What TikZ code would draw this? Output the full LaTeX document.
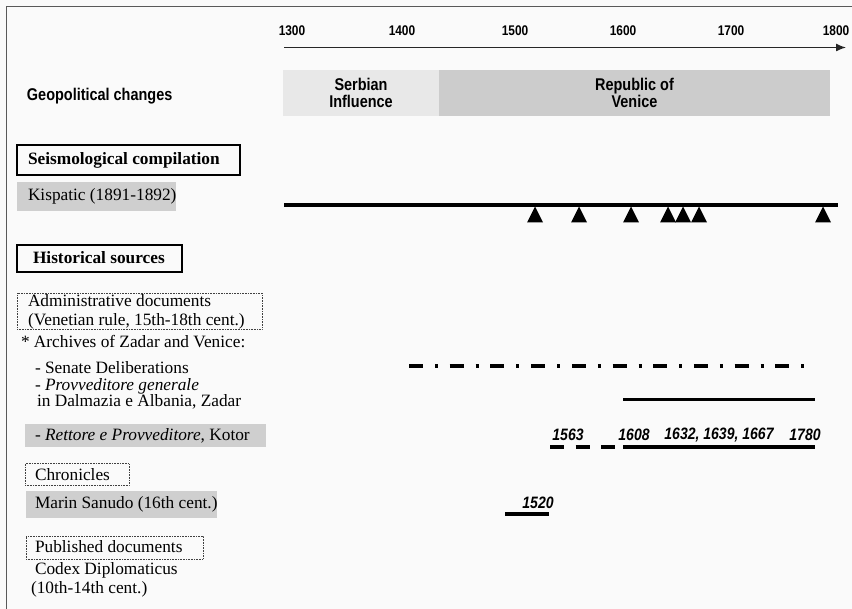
\documentclass[tikz,border=0pt]{standalone}
\usepackage{fontspec}
\setmainfont{Liberation Serif}
\setsansfont[FakeStretch=0.85]{Liberation Sans}
\usetikzlibrary{arrows.meta}

\definecolor{paper}{gray}{0.98}
\definecolor{framegray}{gray}{0.35}

\newcommand{\rowfont}{\fontsize{17.3}{19}\selectfont}
\newcommand{\geofont}{\sffamily\bfseries\fontsize{17}{17}\selectfont}
\newcommand{\yearfont}{\sffamily\bfseries\fontsize{14}{14}\selectfont}
\newcommand{\eventfont}{\sffamily\bfseries\itshape\fontsize{16.5}{17}\selectfont}

\begin{document}
\begin{tikzpicture}[x=1pt,y=-1pt,>={Latex[length=10pt,width=8pt]},
  every node/.style={inner sep=0pt,outer sep=0pt},
  rowtext/.style={anchor=west,font=\rowfont,align=left},
  headbox/.style={anchor=west,draw=black,line width=2pt},
  greybox/.style={anchor=west,fill=black!19},
  dotbox/.style={anchor=west,draw=black!75,densely dotted,line width=.6pt},
  geobox/.style={anchor=west,minimum height=46pt,font=\geofont,align=center},
  bar/.style={line width=3.5pt}]

  \useasboundingbox [fill=paper] (0,0) rectangle (852,609);
  \draw [framegray,line width=1.2pt] (6.5,609) |- (852,6.5);

  % time axis
  \foreach \yr/\x in {1300/292,1400/402,1500/515,1600/623,1700/731,1800/836}
    \node [font=\yearfont] (yr\yr) at (\x,31) {\yr};
  \draw [->,black!85,line width=1.3pt] (284,47.5) -- (846,47.5);

  % geopolitical changes
  \node [anchor=west,font=\geofont] (geo) at (27,96) {Geopolitical changes};
  \node [geobox,minimum width=156pt,fill=black!9] (serb) at (283,93) {Serbian\\Influence};
  \node [geobox,minimum width=391pt,fill=black!20] (venice) at (serb.east) {Republic of\\Venice};

  % seismological compilation
  \node [headbox,minimum width=223pt,minimum height=30pt] (seismoBox) at (17,160) {};
  \node [rowtext,font=\rowfont\bfseries] (seismo) at (28,160) {Seismological compilation};
  \node [greybox,minimum width=159pt,minimum height=29pt] (kispBox) at (17,196.5) {};
  \node [rowtext] (kisp) at (28,196) {Kispatic (1891-1892)};
  \draw [line width=4pt] (284,205) -- (838,205);
  \foreach \x in {535,579,631,668,683,699,823}
    \fill (\x,206.5) -- ++(-8,16) -- ++(16,0) -- cycle;

  % historical sources
  \node [headbox,minimum width=165pt,minimum height=27pt] (histBox) at (17,258.5) {};
  \node [rowtext,font=\rowfont\bfseries] (hist) at (33,258) {Historical sources};

  \node [dotbox,minimum width=245pt,minimum height=36pt] (adminBox) at (17,311) {};
  \node [rowtext] (admin) at (28,312) {Administrative documents\\(Venetian rule, 15th-18th cent.)};
  \node [rowtext] (archives) at (21,342) {* Archives of Zadar and Venice:};
  \node [rowtext] (senate) at (35,368) {- Senate Deliberations};
  \node [rowtext,font=\fontsize{17.3}{16}\selectfont] (provv) at (35,394)
    {- \textit{Provveditore generale}\\\hspace*{2pt}in Dalmazia e Albania, Zadar};
  \node [greybox,minimum width=241pt,minimum height=23pt] (kotorBox) at (25,436) {};
  \node [rowtext] (kotor) at (35,436) {- \textit{Rettore e Provveditore}, Kotor};

  \node [dotbox,minimum width=104pt,minimum height=22pt] (chronBox) at (25,474.5) {};
  \node [rowtext] (chron) at (35,475) {Chronicles};
  \node [greybox,minimum width=191pt,minimum height=27pt] (sanudoBox) at (26,504.5) {};
  \node [rowtext] (sanudo) at (35,504) {Marin Sanudo (16th cent.)};

  \node [dotbox,minimum width=177pt,minimum height=23pt] (publBox) at (26,547.5) {};
  \node [rowtext] (publ) at (35,547) {Published documents};
  \node [rowtext] (codex) at (31,580) {\hspace*{4pt}Codex Diplomaticus\\(10th-14th cent.)};

  % coverage of the sources
  \draw [bar,dash pattern=on 14pt off 12pt on 3pt off 11.7pt] (409,366) -- (804.3,366);
  \draw [line width=3pt] (623,400) -- (815,400);
  \draw [bar,dash pattern=on 14pt off 11.5pt] (550,447) -- (615,447);
  \draw [bar] (623,447) -- (815,447);
  \node [font=\eventfont] (ev1563) at (568,435) {1563};
  \node [font=\eventfont] (ev1608) at (634,435) {1608};
  \node [font=\eventfont] (ev1632) at (719,435) {1632, 1639, 1667};
  \node [font=\eventfont] (ev1780) at (805,435) {1780};
  \draw [bar] (505,514) -- (549,514);
  \node [font=\eventfont] (ev1520) at (538,503) {1520};

\end{tikzpicture}
\end{document}
